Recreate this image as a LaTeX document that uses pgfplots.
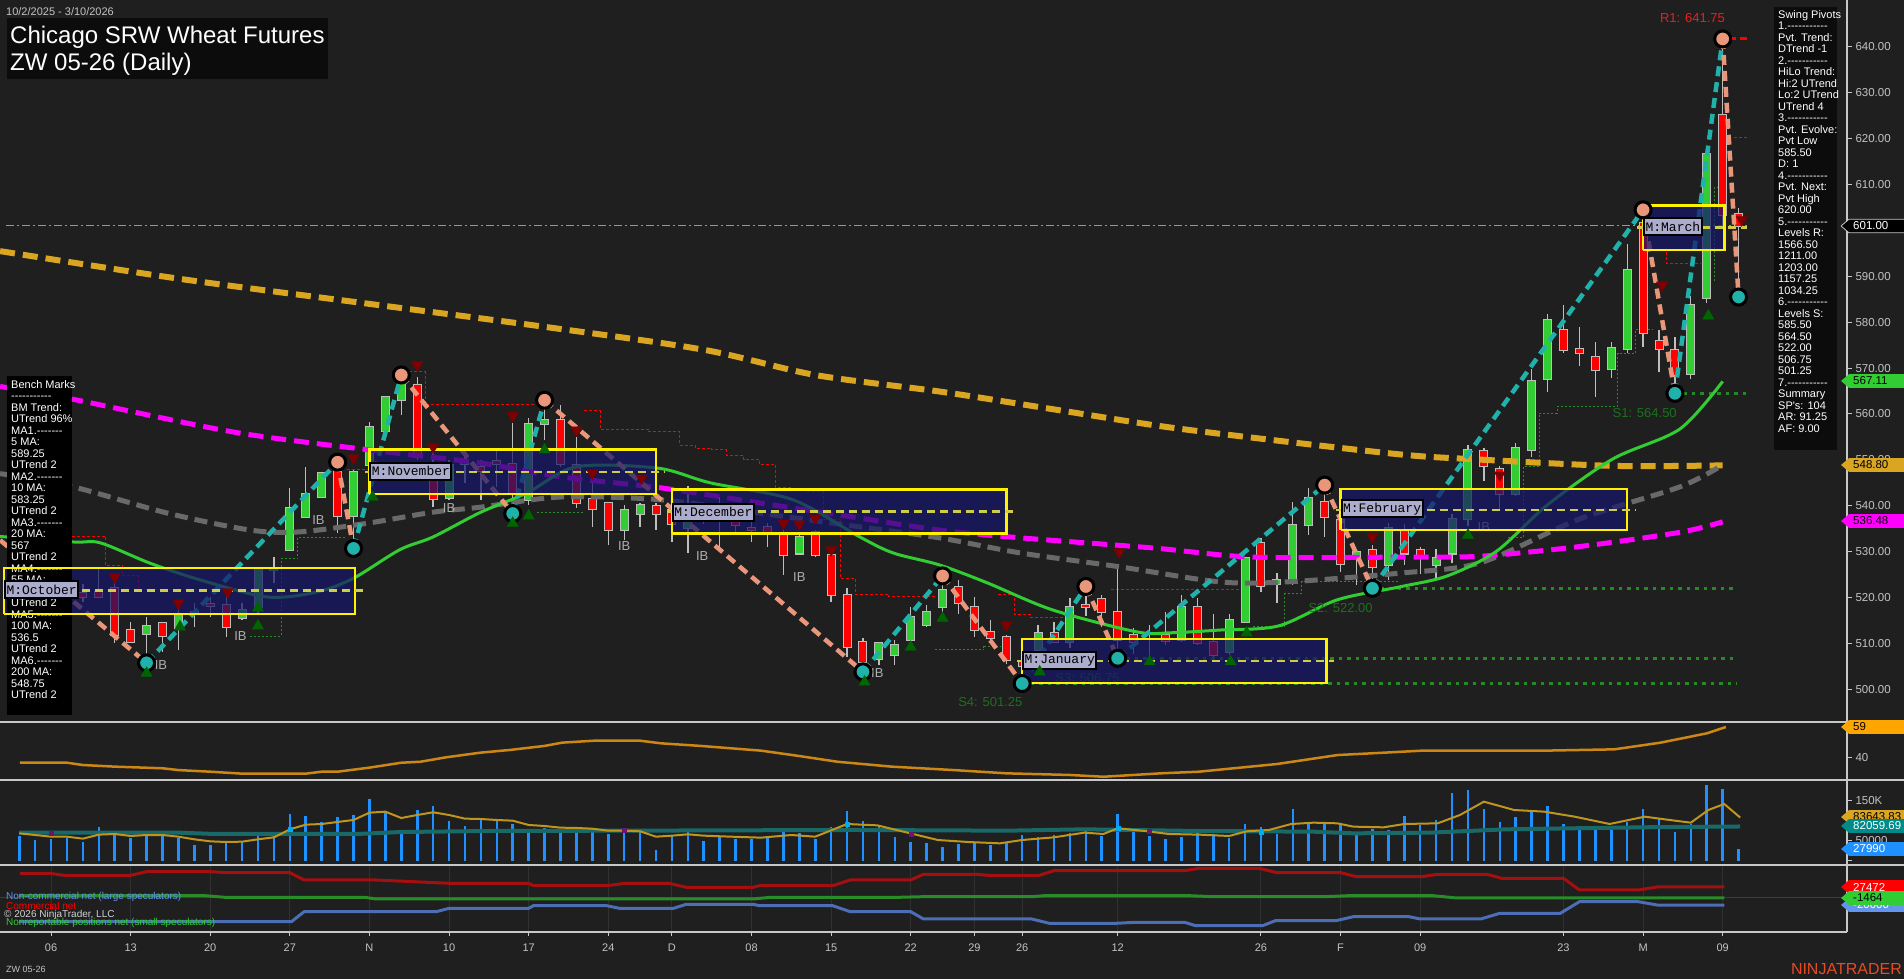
\documentclass[border=0pt]{standalone}
\usepackage{pgfplots}
\pgfplotsset{compat=1.18}
\usepackage{pgfplotstable}
\usepackage{fontspec}
\setmainfont{Liberation Sans}
\newfontfamily\plainsans{Liberation Sans}
\newfontfamily\mono{Liberation Mono}
\newcommand\fs[2]{\fontsize{#1}{#2}\selectfont}

\definecolor{bg}{RGB}{31,31,31}
\definecolor{axcol}{RGB}{200,200,200}
\definecolor{tickcol}{RGB}{195,195,195}
\definecolor{upgreen}{RGB}{50,205,50}
\definecolor{dnred}{RGB}{255,0,0}
\definecolor{wick}{RGB}{190,190,190}
\definecolor{salmon}{RGB}{233,150,122}
\definecolor{tealz}{RGB}{32,178,170}
\definecolor{ma200}{RGB}{218,165,32}
\definecolor{ma55}{RGB}{105,105,105}
\definecolor{ma100}{RGB}{255,0,255}
\definecolor{ma20}{RGB}{50,205,50}
\definecolor{boxnavy}{RGB}{22,22,105}
\definecolor{midyel}{RGB}{205,205,70}
\definecolor{lav}{RGB}{172,172,204}
\definecolor{trup}{RGB}{0,100,0}
\definecolor{trdn}{RGB}{128,0,0}
\definecolor{stxt}{RGB}{28,112,28}
\definecolor{ibcol}{RGB}{175,175,175}
\definecolor{adx}{RGB}{205,135,20}
\definecolor{vol}{RGB}{30,144,255}
\definecolor{volma}{RGB}{190,150,30}
\definecolor{volteal}{RGB}{25,105,105}
\definecolor{cotred}{RGB}{165,15,15}
\definecolor{cotgreen}{RGB}{40,140,40}
\definecolor{cotblue}{RGB}{75,110,180}
\definecolor{gridc}{RGB}{48,48,48}
\definecolor{panelblack}{RGB}{12,12,12}
\definecolor{lastline}{RGB}{150,150,150}
\definecolor{slevel}{RGB}{34,139,34}
\definecolor{rtext}{RGB}{235,30,30}
\definecolor{tagorange}{RGB}{255,165,0}
\definecolor{tagteal}{RGB}{0,139,139}
\definecolor{tagcorn}{RGB}{100,149,237}
\definecolor{zeroline}{RGB}{60,60,60}
\definecolor{purpmk}{RGB}{110,20,110}
\definecolor{copytxt}{RGB}{210,210,210}
\definecolor{ninja}{RGB}{230,75,35}

\pgfplotstableread{
i O H L C
0 525 528 522 524
1 524 526 520 522.5
2 522.5 525 519 523
3 523 524.5 520 521
4 521 523 519 520
5 521.3 526.7 519.8 520
6 522 523.1 510 511.8
7 513 514.7 510 510.2
8 512 515.8 505.75 513.8
9 514.5 514.7 508.2 511.6
10 513.3 518.7 508.6 516.2
11 516.9 518.7 513.6 516.6
12 518.5 520.2 515.8 518.2
13 518.3 520.2 511.5 513.6
14 515.5 518.7 515.1 517.3
15 518 526.7 516.5 526.3
16 525.9 528.9 523.1 526.3
17 530.4 543.8 530.4 539.5
18 537.5 548.5 537.3 542.6
19 542 547.4 541.9 547.1
20 548.5 549.5 534 537.8
21 537.8 547.8 530.7 547.4
22 548.9 558.3 548.5 557.1
23 556.2 563.8 555.8 563.8
24 563.1 568.5 559.8 567
25 566.3 568.1 550 550.7
26 549.2 552.9 539.8 541.4
27 541.6 550 541.2 548.9
28 550 552.2 544.9 549
29 548.5 550 541.2 547.5
30 549.8 552.5 544 549.1
31 549.2 558 538.3 542.7
32 541.2 559.1 540.2 557.8
33 557.8 563 554.3 558.8
34 558.7 562 548.5 549.2
35 548.9 554.9 539.4 540.5
36 541.4 544.9 535.4 539.4
37 540.5 540.9 531.5 534.7
38 534.7 540.2 532.5 539.1
39 538.3 540.5 535.4 540.2
40 540 540.5 534.7 538.3
41 539 542 532 536
42 535.1 544.2 529.6 539.8
43 538.8 540.9 536 538.2
44 539.5 542 531.1 539.9
45 536.9 539 534 535.8
46 535.1 536.9 532.2 534.8
47 535.3 536.2 531.1 534.2
48 533.6 534.7 524.9 529.3
49 529.6 534.3 529.3 533.2
50 534.3 534.7 528.9 529.3
51 529.3 531.1 519.1 520.5
52 520.5 522 507.1 509.3
53 510.4 511.1 503.8 506
54 506.5 510.4 505.3 510
55 507.4 510.7 505.3 509.6
56 510.7 518 510 515.8
57 514 518.4 513.6 516.9
58 518 524.7 516.5 521.6
59 522.2 523.8 516.5 518.7
60 518 520.2 511.5 512.9
61 512.5 515.1 510 511.1
62 511.4 511.8 505.6 506.4
63 506 507 501.25 505
64 508.6 514 508.2 512.2
65 512.3 514.7 510 510.4
66 510.4 519.8 508.9 518
67 518.3 522.4 516 518
68 519.6 520.5 513.6 516.9
69 516.9 527.4 506.75 510.7
70 511.8 513.3 507.8 510.4
71 512 514 507.5 512.3
72 511.8 516.9 509.7 510.6
73 510.7 520.5 510.4 518
74 518 519.8 509.6 510
75 510.4 516.5 507.1 507.5
76 508.2 516.5 507.5 515.2
77 514.7 528.9 514.4 528.6
78 531.8 532.9 521.3 522.4
79 523 525.3 518.7 523.9
80 523.1 540.9 522.7 535.8
81 535.8 543.8 533.6 541.6
82 540.9 544.5 533.2 537.6
83 536.9 537.3 525.6 527.4
84 528.5 530.4 522.8 530
85 530.4 531.5 522 526.7
86 527.1 536.2 523.8 535.1
87 534.6 536.1 527.1 529.6
88 530.3 531.1 525.1 528.6
89 527.1 530.6 524.1 528.6
90 529.6 538.1 527.6 537.1
91 537.1 553.3 535.6 552.1
92 552 552.6 545.4 548.7
93 548.1 548.6 539.1 542.6
94 542.6 553.6 542.1 552.6
95 552.1 569.7 550.6 567.2
96 567.7 581.9 564.7 580.5
97 578.2 583.7 573.2 574
98 574.2 578.9 570.4 573.4
99 572.4 575.7 563.7 569.7
100 569.9 575.7 567.9 574.5
101 574.2 597 573.2 591.5
102 601.7 604.5 574.7 577.7
103 576 578.2 569.2 574.2
104 574 576.7 564.5 568.4
105 568.7 585.7 567.7 583.7
106 585.4 617.2 584.2 616.7
107 625.2 641.75 601.2 603.4
108 603.5 605 585.5 601
}\ohlc

\pgfplotstableread{
i v
0 61.6
1 51.7
2 54.2
3 57.5
4 46.8
5 83.7
6 67.3
7 56.7
8 68.1
9 61.6
10 56.7
11 39.4
12 39.4
13 45.2
14 46.8
15 61.6
16 61.6
17 115.8
18 110.8
19 96.1
20 108.4
21 113.3
22 152.7
23 123.2
24 76.4
25 125.6
26 135.5
27 98.5
28 86.2
29 101
30 98.5
31 91.1
32 69
33 81.3
34 71.4
35 81.3
36 73.9
37 66.5
38 71.4
39 76.4
40 27.1
41 64
42 78.8
43 50.1
44 59.9
45 55
46 55
47 57.5
48 73.9
49 69.8
50 55
51 84.6
52 123.2
53 99.3
54 88.7
55 59.9
56 47.6
57 45.2
58 35.3
59 41.9
60 45.2
61 39.4
62 43.5
63 64
64 58.3
65 64
66 69.8
67 73.9
68 61.6
69 115.8
70 72.2
71 61.6
72 55
73 59.9
74 69.8
75 66.5
76 57.5
77 92
78 84.6
79 66.5
80 128.9
81 96.1
82 91.1
83 91.1
84 66.5
85 79.6
86 76.4
87 110.8
88 88.7
89 101
90 168.3
91 174.9
92 128.1
93 96.1
94 109.2
95 121.5
96 135.5
97 91.1
98 84.6
99 84.6
100 76.4
101 96.9
102 128.1
103 105.1
104 71.4
105 91.1
106 186.4
107 177.3
108 29.6
}\voltab

\newcommand\rtag[4]{%
  \fill[color=#2] (1841,#1) -- (1849,#1+6.8) -- (1904,#1+6.8) -- (1904,#1-6.8) -- (1849,#1-6.8) -- cycle;
  \node[anchor=west, text=#3, font=\plainsans\fs{11.5}{12}, inner sep=0pt] at (1853,#1) {#4};}

\pgfplotsset{
  mbox/.style={fill=boxnavy, fill opacity=0.72, draw=none},
  mborder/.style={draw=yellow, line width=2.5pt},
  mmid/.style={draw=midyel, line width=2.5pt, dash pattern=on 8pt off 5pt},
}
\tikzset{
  mlabel/.style={anchor=west, fill=lav, draw=black, line width=2pt, inner sep=1.5pt, minimum height=17pt, font=\mono\fs{13}{13}, text=black},
  iblab/.style={font=\plainsans\fs{13}{13}, text=ibcol},
  slab/.style={font=\plainsans\fs{13}{13}, text=stxt},
}

\begin{document}
\begin{tikzpicture}[x=1pt,y=1pt]
\path[use as bounding box] (0,0) rectangle (1904,979);
\fill[color=bg] (0,0) rectangle (1904,979);

% ---------------- price panel
\begin{axis}[at={(0pt,257pt)}, anchor=south west, scale only axis,
  width=1847pt, height=722pt,
  xmin=-1.206, xmax=114.81, ymin=492.86, ymax=650.245,
  axis x line=none, axis y line*=right,
  axis line style={draw=axcol, line width=2pt},
  ytick={500,510,...,640},
  yticklabels={500.00,510.00,520.00,530.00,540.00,550.00,560.00,570.00,580.00,590.00,{},610.00,620.00,630.00,640.00},
  tick align=outside, major tick length=5pt, tick style={draw=axcol, line width=1pt},
  yticklabel style={font=\plainsans\fs{11.5}{12}, text=tickcol},
  clip=true]

% last price line
\addplot[draw=lastline, line width=1.2pt,
  dash pattern=on 8pt off 3pt on 2pt off 3pt] coordinates {(-0.83,601) (108.6,601)};

% trailing stop lines
\addplot[dnred, line width=1pt, dash pattern=on 3pt off 2pt, unbounded coords=jump] coordinates {
(3.3,533.3) (5.45,533.3) (5.45,526.9) (6.5,526.9) (6.5,524.7) (7.48,524.7) (7.48,521.8) (13,521.8) (nan,nan)
(20.6,547.8) (22,547.8) (nan,nan)
(24.5,569.2) (25.5,569.2) (25.5,562) (32.5,562) (nan,nan)
(35.5,560.7) (36.5,560.7) (36.5,556.7) (39.5,556.7) (39.5,556.1) (41.5,556.1) (41.5,553.2) (42.45,553.2) (42.45,552.5) (43.5,552.5) (43.5,552.2) (44.4,552.2) (44.4,551) (45.5,551) (45.5,550.1) (46.5,550.1) (46.5,549) (47.5,549) (47.5,544) (48.5,544) (nan,nan)
(49.5,543.1) (50.5,543.1) (50.5,536.9) (51.56,536.9) (51.56,524.2) (52.5,524.2) (52.5,520.7) (54.6,520.7) (54.6,520.2) (57.6,520.2) (nan,nan)
(61.5,520.7) (62.5,520.7) (62.5,516.3) (63.5,516.3) (63.5,515.7) (65.8,515.7) (nan,nan)
(68.6,521.8) (76.6,521.8) (nan,nan)
(103.5,595.4) (103.5,592.7) (105.6,592.7) (nan,nan)
(107.7,620.2) (108.5,620.2)};
\addplot[cotgreen, line width=1pt, dash pattern=on 2pt off 2pt, unbounded coords=jump] coordinates {
(14.5,511.6) (16.45,511.6) (16.45,528.5) (17.5,528.5) (17.5,533.1) (20.6,533.1) (nan,nan)
(32.5,538.5) (35.4,538.5) (nan,nan)
(57.5,508.7) (60.6,508.7) (60.6,509.3) (61.6,509.3) (nan,nan)
(77.5,513.6) (79.5,513.6) (79.5,520.9) (80.55,520.9) (80.55,523.5) (86.7,523.5) (nan,nan)
(93.5,533.1) (94.5,533.1) (94.5,548.6) (95.5,548.6) (95.5,560.2) (96.6,560.2) (96.6,561.7) (100.4,561.7) (100.4,573.2) (101.5,573.2) (101.5,578.4) (102.65,578.4) (nan,nan)
(106.5,588.9) (106.5,609.4) (107.4,609.4)};

% support levels
\addplot[draw=slevel, line width=3.5pt, dash pattern=on 3.5pt off 5pt, unbounded coords=jump] coordinates {
(63,501.25) (107.9,501.25) (nan,nan) (69,506.75) (107.9,506.75) (nan,nan) (85,522) (107.9,522) (nan,nan) (104,564.5) (108.5,564.5)};
\addplot[dnred, line width=3pt, dash pattern=on 7pt off 4pt] coordinates {(106.7,641.75) (108.6,641.75)};

% candles
\addplot[draw=none, mark=none, forget plot, unbounded coords=discard,
  error bars/.cd, y dir=both, y explicit, error mark=none,
  error bar style={draw=wick, line width=1.3pt}]
  table[x=i, y expr={(\thisrow{H}+\thisrow{L})/2}, y error expr={(\thisrow{H}-\thisrow{L})/2}] {\ohlc};
\addplot[draw=none, mark=none, forget plot, unbounded coords=discard,
  error bars/.cd, y dir=both, y explicit, error mark=none,
  error bar style={draw=wick, line width=9pt}]
  table[x=i, y expr={(\thisrow{O}+\thisrow{C})/2}, y error expr={abs(\thisrow{C}-\thisrow{O})/2+0.22}] {\ohlc};
\addplot[draw=none, mark=none, forget plot, unbounded coords=discard,
  error bars/.cd, y dir=both, y explicit, error mark=none,
  error bar style={draw=upgreen, line width=7pt}]
  table[x=i, y expr={ifthenelse(\thisrow{C}<\thisrow{O},nan,(\thisrow{O}+\thisrow{C})/2)}, y error expr={abs(\thisrow{C}-\thisrow{O})/2}] {\ohlc};
\addplot[draw=none, mark=none, forget plot, unbounded coords=discard,
  error bars/.cd, y dir=both, y explicit, error mark=none,
  error bar style={draw=dnred, line width=7pt}]
  table[x=i, y expr={ifthenelse(\thisrow{C}<\thisrow{O},(\thisrow{O}+\thisrow{C})/2,nan)}, y error expr={abs(\thisrow{C}-\thisrow{O})/2}] {\ohlc};

% moving averages
\addplot[ma200, line width=6pt, dash pattern=on 15pt off 8pt, smooth] coordinates {
(-1.2,595.5) (10,589.5) (22,584) (33,579) (43,574) (50,568.5) (58,564.8) (65,561) (72,557.2) (80,553.8) (87,551.1) (91,550.2) (100,548.7) (107,548.8)};
\addplot[ma55, line width=5pt, dash pattern=on 13pt off 7pt, smooth] coordinates {
(-1.2,547) (3.4,544.1) (9.3,538.4) (14.5,534.7) (17.6,534.3) (21.9,536.2) (26,538.6) (29,539.7) (34,541.9) (40.3,541.3) (46.5,538.4) (52.8,535.4) (57.8,533) (62.9,529.7) (69.1,526.7) (75.4,523.4) (79.6,523.4) (86.7,525.3) (91.8,527.6) (98,537.1) (104.3,544.1) (107,548.9)};
\addplot[ma100, line width=5pt, dash pattern=on 15pt off 8pt, smooth] coordinates {
(-1.2,566) (3.6,563.05) (13.4,556.1) (21.9,552.2) (29,549.3) (34,546.3) (40.3,543.9) (46.5,540.6) (52.8,537.3) (57.8,534.7) (62.9,533) (71.2,530.8) (77.5,528.8) (86.7,528.8) (91.8,529) (98,531.1) (104.3,534.2) (107,536.5)};
\addplot[ma20, line width=3pt, smooth] coordinates {
(-1.2,533.3) (3.4,532.1) (5.1,531.9) (8.2,527.5) (11.4,523.8) (15.6,520.1) (18.7,521.2) (21,524.2) (23.9,530.4) (26,533.2) (29,538.6) (31.9,542.8) (35,548.5) (40.1,548.2) (43.4,545) (48.6,541.3) (52.8,533.2) (54.9,529.7) (57.8,527.1) (60.8,523.2) (64.9,517.3) (70.2,512.5) (72.3,512.3) (75.4,512.9) (79.1,513.8) (82.8,519.5) (86.7,522.3) (89.7,524.7) (92.8,530.1) (96,540.2) (100.1,550.2) (104.3,556.7) (107,567.1)};

% swing zigzag
\addplot[tealz, line width=4.5pt, dash pattern=on 10pt off 6pt, unbounded coords=jump] coordinates {
(8,505.75) (20,549.5) (nan,nan) (21,530.7) (24,568.5) (nan,nan) (31,538.3) (33,563) (nan,nan) (53,503.8) (58,524.7) (nan,nan) (63,501.25) (67,522.4) (nan,nan) (69,506.75) (82,544.5) (nan,nan) (85,522) (102,604.5) (nan,nan) (104,564.5) (107,641.75)};
\addplot[salmon, line width=4.5pt, dash pattern=on 10pt off 6pt, unbounded coords=jump] coordinates {
(-1.2,532.5) (8,505.75) (nan,nan) (20,549.5) (21,530.7) (nan,nan) (24,568.5) (31,538.3) (nan,nan) (33,563) (53,503.8) (nan,nan) (58,524.7) (63,501.25) (nan,nan) (67,522.4) (69,506.75) (nan,nan) (82,544.5) (85,522) (nan,nan) (102,604.5) (104,564.5) (nan,nan) (107,641.75) (108,585.5)};
\addplot[only marks, mark=*, mark size=8pt, mark options={fill=salmon, draw=black, line width=3pt}] coordinates {
(20,549.5) (24,568.5) (33,563) (58,524.7) (67,522.4) (82,544.5) (102,604.5) (107,641.75)};
\addplot[only marks, mark=*, mark size=8pt, mark options={fill=tealz, draw=black, line width=3pt}] coordinates {
(8,505.75) (21,530.7) (31,538.3) (53,503.8) (63,501.25) (69,506.75) (85,522) (104,564.5) (108,585.5)};

% signal triangles
\addplot[only marks, mark=triangle*, mark size=6.5pt, mark options={fill=trdn, draw=trdn, rotate=180}] coordinates {
(25,570.7) (21,550.4) (26,552.8) (6,524.5) (10,518.8) (13.1,521.2) (31,559.6) (35,556.5) (36,547.1) (39.1,546) (48,536.2) (49,536) (50,537.3) (51,530.4) (69.1,529.9) (62,514) (85,533.2) (93,546.7) (103.2,588.1) (108.2,602.3)};
\addplot[only marks, mark=triangle*, mark size=6.5pt, mark options={fill=trup, draw=trup}] coordinates {
(8,503.5) (10.1,513.6) (15,513.8) (15,517.7) (22.2,541.9) (33,552.2) (32,537.8) (31,536.2) (53.1,501.6) (56,509.2) (58,515.5) (64.1,503.8) (71,506) (76.1,506) (77.1,512.3) (91,533.6) (106.1,581.4)};

% labels
\node[iblab] at (axis cs:18.8,536.9) {IB};
\node[iblab] at (axis cs:8.9,505.3) {IB};
\node[iblab] at (axis cs:13.9,511.6) {IB};
\node[iblab] at (axis cs:27,539.5) {IB};
\node[iblab] at (axis cs:38,531.2) {IB};
\node[iblab] at (axis cs:42.9,529) {IB};
\node[iblab] at (axis cs:49,524.5) {IB};
\node[iblab] at (axis cs:53.9,503.5) {IB};
\node[iblab] at (axis cs:92,535.4) {IB};
\node[slab] at (axis cs:61,497.2) {S4: 501.25};
\node[slab] at (axis cs:67.1,502.4) {S3: 506.75};
\node[slab] at (axis cs:83,517.7) {S2: 522.00};
\node[slab] at (axis cs:102.1,560.2) {S1: 564.50};
\node[font=\plainsans\fs{13}{13}, text=rtext] at (axis cs:105.1,646.3) {R1: 641.75};

% monthly boxes
\addplot[mbox] coordinates {(-0.95,516.4) (21.1,516.4) (21.1,526.4) (-0.95,526.4)} -- cycle;
\addplot[mbox] coordinates {(22,542.6) (40,542.6) (40,552.3) (22,552.3)} -- cycle;
\addplot[mbox] coordinates {(41,534) (62,534) (62,543.5) (41,543.5)} -- cycle;
\addplot[mbox] coordinates {(63,501.4) (82.1,501.4) (82.1,510.9) (63,510.9)} -- cycle;
\addplot[mbox] coordinates {(83,534.7) (101,534.7) (101,543.6) (83,543.6)} -- cycle;
\addplot[mbox] coordinates {(102,595.7) (107.1,595.7) (107.1,605.5) (102,605.5)} -- cycle;
\addplot[mborder] coordinates {(-0.95,516.4) (21.1,516.4) (21.1,526.4) (-0.95,526.4) (-0.95,516.4)};
\addplot[mborder] coordinates {(22,542.6) (40,542.6) (40,552.3) (22,552.3) (22,542.6)};
\addplot[mborder] coordinates {(41,534) (62,534) (62,543.5) (41,543.5) (41,534)};
\addplot[mborder] coordinates {(63,501.4) (82.1,501.4) (82.1,510.9) (63,510.9) (63,501.4)};
\addplot[mborder] coordinates {(83,534.7) (101,534.7) (101,543.6) (83,543.6) (83,534.7)};
\addplot[mborder] coordinates {(102,595.7) (107.1,595.7) (107.1,605.5) (102,605.5) (102,595.7)};
\addplot[mmid] coordinates {(-0.95,521.5) (21.6,521.5)};
\addplot[mmid] coordinates {(21.7,547.4) (40.5,547.4)};
\addplot[mmid] coordinates {(40.7,538.7) (62.5,538.7)};
\addplot[mmid] coordinates {(62.7,506.2) (82.6,506.2)};
\addplot[mmid] coordinates {(82.7,539.1) (101.5,539.1)};
\addplot[mmid] coordinates {(101.6,600.7) (108.5,600.7)};
\node[mlabel] at (axis cs:22,547.5) {M:November};
\node[mlabel] at (axis cs:41,538.6) {M:December};
\node[mlabel] at (axis cs:63,506.3) {M:January};
\node[mlabel] at (axis cs:83,539.3) {M:February};
\node[mlabel] at (axis cs:102,600.8) {M:March};
\end{axis}

% ---------------- oscillator panel
\begin{axis}[at={(0pt,199pt)}, anchor=south west, scale only axis,
  width=1847pt, height=58pt,
  xmin=-1.206, xmax=114.81, ymin=26.52, ymax=62.06,
  axis x line=none, axis y line*=right,
  axis line style={draw=axcol, line width=2pt},
  ytick={40}, yticklabels={40},
  tick align=outside, major tick length=5pt, tick style={draw=axcol, line width=1pt},
  yticklabel style={font=\plainsans\fs{11.5}{12}, text=tickcol}]
\addplot[adx, line width=2.5pt] coordinates {
(0.05,37.1) (3,37.1) (4,35.7) (6,34.7) (9,33.7) (10,32.6) (12,31.6) (14,30.4) (18,30.4) (19,31.6) (20,31.6) (22,34.1) (24,37.1) (25.2,37.7) (26.8,40.4) (29,43.3) (30.8,44.9) (33,47.4) (34.1,49.4) (36.1,50.6) (39,50.6) (40.3,49) (42.8,47.4) (46.6,44.5) (49,41.2) (51.4,37.7) (54.8,34.7) (58.7,32.6) (62,30.6) (66,29.6) (68.1,28.5) (71.7,30.6) (74.1,31.6) (79,36.3) (82.8,41.8) (86.2,43.5) (88.1,44.5) (95.8,44.5) (100.2,45.3) (103.1,49.4) (106,55.1) (107.2,59)};
\end{axis}

% ---------------- volume panel
\begin{axis}[at={(0pt,114pt)}, anchor=south west, scale only axis,
  width=1847pt, height=85pt,
  xmin=-1.206, xmax=114.81, ymin=-9.85, ymax=199.5,
  axis x line=none, axis y line*=right,
  axis line style={draw=axcol, line width=2pt},
  ytick={0,50,150}, yticklabels={{},50000,150K},
  tick align=outside, major tick length=5pt, tick style={draw=axcol, line width=1pt},
  yticklabel style={font=\plainsans\fs{11.5}{12}, text=tickcol}]
\addplot[vol, ycomb, line width=2.6pt] table[x=i, y=v] {\voltab};
\addplot[volteal, line width=4pt] coordinates {
(0,69.8) (10,69.8) (12.3,66.5) (21.2,66.5) (24,71.4) (29.6,73.9) (38,74.7) (52.4,76.4) (62.1,74.7) (66.9,78) (74.1,73.9) (81.3,72.2) (83.8,68.1) (88.6,69.8) (93.4,78) (98.2,80.9) (103.1,83.5) (108.1,85)};
\addplot[volma, line width=2pt] coordinates {
(0,68.1) (2,59.9) (3,59.9) (4,55) (5,64.9) (6,66.5) (7,61.6) (8,64) (9,64) (10,59.9) (11,53.4) (12,48.4) (13,46.8) (14,47.6) (15,53.4) (16,58.3) (17,78) (18,89.5) (19,91.1) (20,96.1) (21,101) (22,119) (23,121.5) (24,105.9) (25,113.3) (26,119.9) (27,113.3) (28,104.3) (29,103.4) (30,101) (31,99.3) (32,88.7) (33,86.2) (34,82.1) (35,81.3) (36,79.6) (37,74.7) (38,74.7) (39,73.1) (40,59.9) (41,62.4) (42,65.7) (43,62.4) (44.7,59.9) (46.6,57.5) (48.5,64) (50,59.9) (52,91.1) (53.9,87.8) (55.8,69.8) (57.7,51.7) (59.6,46.8) (61.6,43.5) (63,51.7) (65,58.3) (66.9,69.8) (68.1,66.5) (69,80.5) (70.7,73.9) (72.2,66.5) (74.1,64.9) (76,61.6) (77.1,73.1) (78.5,76.4) (79.9,91.1) (81.3,94.4) (82.8,92.8) (83.8,84.6) (85.7,82.9) (87,91.1) (89.1,92.8) (90.5,113.3) (92,146.1) (93.9,125.6) (95.8,121.5) (97.7,109.2) (99.9,91.1) (102.1,109.2) (104,99.3) (105,94.4) (106.1,125.6) (107.1,140.4) (108.1,107)};
\addplot[only marks, mark=square*, mark size=2pt, mark options={fill=cyan, draw=cyan}] coordinates {(17,78) (52,91.1) (69,80.5) (78,72)};
\addplot[only marks, mark=square*, mark size=2pt, mark options={fill=purpmk, draw=purpmk}] coordinates {(2,69) (38,74.7) (56,67) (71,73.9)};
\end{axis}

% ---------------- COT panel
\begin{axis}[at={(0pt,47pt)}, anchor=south west, scale only axis,
  width=1847pt, height=67pt,
  xmin=-1.206, xmax=114.81, ymin=-90.88, ymax=85.33,
  axis x line*=bottom, axis y line*=right,
  axis line style={draw=axcol, line width=2pt},
  xtick={2,7,12,17,22,27,32,37,41,46,51,56,60,63,69,78,83,88,97,102,107},
  xticklabels={06,13,20,27,N,10,17,24,D,08,15,22,29,26,12,26,F,09,23,M,09},
  ytick=\empty,
  xmajorgrids, grid style={draw=gridc, line width=1pt},
  tick align=outside, major tick length=4pt, tick style={draw=axcol, line width=1pt},
  xticklabel style={font=\plainsans\fs{11}{12}, text=tickcol, yshift=-4pt}]
\addplot[draw=zeroline, line width=1pt] coordinates {(-1.2,0) (114.8,0)};
\addplot[cotred, line width=3pt] coordinates {
(0.05,63.5) (1.87,63.5) (3,57.2) (6.9,57.2) (8,67.7) (12,67.7) (13.1,65.1) (17,65.1) (17.9,45.9) (22.4,45.9) (27,37.2) (32,37.2) (32.3,30.9) (36.9,30.9) (38.1,37.2) (40.8,37.2) (41.9,26.7) (46.1,26.7) (46.5,30.9) (51.1,30.9) (52.2,45.9) (56,45.9) (56.8,60.9) (60.1,60.9) (61.1,57.2) (64,57.2) (65,70.3) (73.2,70.3) (74.1,76.6) (77.9,76.6) (79,65.1) (83,65.1) (84,54.6) (88.1,54.6) (89.1,60.9) (92.2,60.9) (93.1,50.4) (97,50.4) (98,19.6) (101.7,19.6) (102.9,27.5) (107.1,27.5)};
\addplot[cotgreen, line width=3pt] coordinates {
(0,4.6) (11.7,4.6) (12.9,0.4) (21.7,0.4) (22.4,-4.1) (46.1,-4.1) (47.2,0.4) (55.3,0.4) (56.8,2) (63.6,2) (64.4,4.6) (73.5,4.6) (75,2) (82,2) (83.5,4.6) (88.8,4.6) (90.3,-1.46) (107.1,-1.46)};
\addplot[cotblue, line width=3pt] coordinates {
(0,-63.8) (17.1,-63.8) (17.9,-37.5) (26.2,-37.5) (27,-28.6) (32,-28.6) (32.3,-21.7) (36.9,-21.7) (37.7,-28.6) (41.1,-28.6) (41.9,-18) (46.1,-18) (46.5,-21.7) (51.1,-21.7) (52.2,-37.5) (56,-37.5) (56.8,-56.7) (63.6,-56.7) (64.7,-68) (68.9,-68) (70.1,-65.4) (73.2,-65.4) (73.9,-74.3) (78.1,-74.3) (78.9,-61.2) (82.7,-61.2) (83.8,-50.6) (87.3,-50.6) (88,-56.7) (91.8,-56.7) (93,-41.7) (96.8,-41.7) (98,-11.2) (101.7,-11.2) (102.9,-20) (107.1,-20)};
\end{axis}

% panel separators
\draw[color=axcol, line width=2pt] (0,257) -- (1904,257);
\draw[color=axcol, line width=2pt] (0,199) -- (1904,199);
\draw[color=axcol, line width=2pt] (0,114) -- (1904,114);

% COT legend texts
\node[anchor=base west, inner sep=0pt, font=\plainsans\fs{10}{10}, text=tagcorn] at (6,79) {Non-commercial net (large speculators)};
\node[anchor=base west, inner sep=0pt, font=\plainsans\fs{10}{10}, text=red] at (6,69) {Commercial net};
\node[anchor=base west, inner sep=0pt, font=\plainsans\fs{10}{10}, text=copytxt] at (4,61) {© 2026 NinjaTrader, LLC};
\node[anchor=base west, inner sep=0pt, font=\plainsans\fs{10}{10}, text=upgreen] at (6,53) {Nonreportable positions net (small speculators)};

% header
\node[anchor=base west, inner sep=0pt, font=\plainsans\fs{11}{11}, text=tickcol] at (6,963) {10/2/2025 - 3/10/2026};
\fill[color=panelblack] (7,900) rectangle (328,961);
\node[anchor=base west, inner sep=0pt, font=\plainsans\fs{24}{24}, text=white] at (10,935.7) {Chicago SRW Wheat Futures};
\node[anchor=base west, inner sep=0pt, font=\plainsans\fs{24}{24}, text=white] at (10,908) {ZW 05-26 (Daily)};

% bench marks box
\fill[color=black] (7,264) rectangle (72,603);
\node[anchor=north west, inner sep=0pt, align=left, font=\plainsans\fs{11}{11.5}, text=white] at (11,599) {Bench Marks\\-----------\\BM Trend:\\UTrend 96\%\\MA1.-------\\5 MA:\\589.25\\UTrend 2\\MA2.-------\\10 MA:\\583.25\\UTrend 2\\MA3.-------\\20 MA:\\567\\UTrend 2\\MA4.-------\\55 MA:\\545.25\\UTrend 2\\MA5.-------\\100 MA:\\536.5\\UTrend 2\\MA6.-------\\200 MA:\\548.75\\UTrend 2};
% October box edge and label above the bench box
\draw[color=yellow, line width=2.5pt] (4,365) -- (72,365);
\draw[color=yellow, line width=2.5pt] (4,411) -- (72,411);
\draw[color=yellow, line width=2.5pt] (4,365) -- (4,411);
\node[mlabel] at (4,389) {M:October};

% swing pivots box
\fill[color=panelblack] (1774,529) rectangle (1837,972);
\node[anchor=north west, inner sep=0pt, align=left, font=\plainsans\fs{11}{11.5}, text=white] at (1778,969) {Swing Pivots\\1.-----------\\Pvt. Trend:\\DTrend -1\\2.-----------\\HiLo Trend:\\Hi:2 UTrend\\Lo:2 UTrend\\UTrend 4\\3.-----------\\Pvt. Evolve:\\Pvt Low\\585.50\\D: 1\\4.-----------\\Pvt. Next:\\Pvt High\\620.00\\5.-----------\\Levels R:\\1566.50\\1211.00\\1203.00\\1157.25\\1034.25\\6.-----------\\Levels S:\\585.50\\564.50\\522.00\\506.75\\501.25\\7.-----------\\Summary\\SP's: 104\\AR: 91.25\\AF: 9.00};

% right axis value tags
\rtag{753}{black}{white}{601.00}
\draw[color=axcol, line width=0.8pt] (1841,753) -- (1849,759.8) -- (1904,759.8) (1841,753) -- (1849,746.2) -- (1904,746.2);
\rtag{598}{upgreen}{black}{567.11}
\rtag{514}{ma200}{black}{548.80}
\rtag{458}{ma100}{black}{536.48}
\rtag{252}{tagorange}{black}{59}
\rtag{162}{ma200}{black}{83643.83}
\rtag{153}{tagteal}{white}{82059.69}
\rtag{130}{vol}{white}{27990}
\rtag{92}{red}{white}{27472}
\rtag{74}{tagcorn}{white}{-20000}
\rtag{81}{upgreen}{black}{-1464}

% footer
\node[anchor=base west, inner sep=0pt, font=\plainsans\fs{9}{9}, text=tickcol] at (6,6) {ZW 05-26};
\node[anchor=base east, inner sep=0pt, font=\plainsans\fs{16}{16}, text=ninja] at (1902,4) {NINJATRADER};
\end{tikzpicture}
\end{document}
